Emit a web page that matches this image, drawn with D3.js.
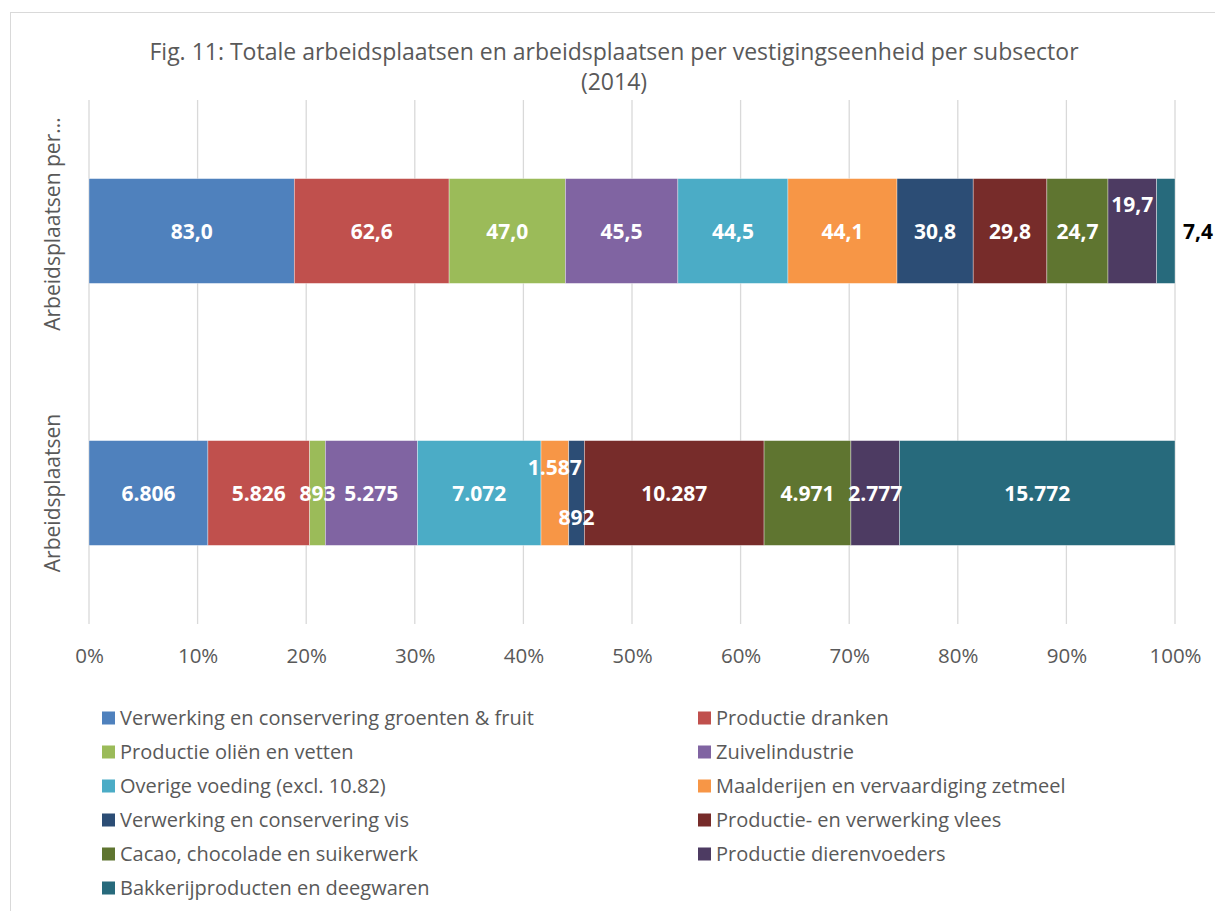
<!DOCTYPE html>
<html><head><meta charset="utf-8">
<script src="https://cdn.jsdelivr.net/npm/d3@7"></script>
<style>body{margin:0;background:#fff;} svg{display:block;}</style>
</head><body>
<script>
const categories = ["Arbeidsplaatsen per...", "Arbeidsplaatsen"];
const seriesNames = [
  "Verwerking en conservering groenten & fruit",
  "Productie dranken",
  "Productie oliën en vetten",
  "Zuivelindustrie",
  "Overige voeding (excl. 10.82)",
  "Maalderijen en vervaardiging zetmeel",
  "Verwerking en conservering vis",
  "Productie- en verwerking vlees",
  "Cacao, chocolade en suikerwerk",
  "Productie dierenvoeders",
  "Bakkerijproducten en deegwaren"
];
const seriesColors = ["#4F81BD","#C0504D","#9BBB59","#8064A2","#4BACC6","#F79646","#2C4D75","#772C2A","#5F7530","#4D3B62","#276A7C"];
const valuesPerUnit = [83.0, 62.6, 47.0, 45.5, 44.5, 44.1, 30.8, 29.8, 24.7, 19.7, 7.4];
const valuesTotal = [6806, 5826, 893, 5275, 7072, 1587, 892, 10287, 4971, 2777, 15772];
const labelsPerUnit = ["83,0","62,6","47,0","45,5","44,5","44,1","30,8","29,8","24,7","19,7","7,4"];
const labelsTotal = ["6.806","5.826","893","5.275","7.072","1.587","892","10.287","4.971","2.777","15.772"];
const xTicks = [0,0.1,0.2,0.3,0.4,0.5,0.6,0.7,0.8,0.9,1.0];
const titleLines = ["Fig. 11: Totale arbeidsplaatsen en arbeidsplaatsen per vestigingseenheid per subsector","(2014)"];

const W = 1215, H = 911;
const font = "'Open Sans', 'DejaVu Sans', sans-serif";
const svg = d3.select("body").append("svg").attr("width", W).attr("height", H);

// chart border
svg.append("rect").attr("x", 10.5).attr("y", 12.5).attr("width", W + 10).attr("height", H + 10)
  .attr("fill", "none").attr("stroke", "#d9d9d9").attr("stroke-width", 1);

// title
svg.append("g").selectAll("text").data(titleLines).join("text")
  .attr("x", 614).attr("y", (d, i) => 60 + i * 30)
  .attr("text-anchor", "middle").attr("font-family", font).attr("font-size", 23)
  .attr("fill", "#595959").text(d => d);

const plot = {left: 89, right: 1175, top: 100, bottom: 624};
const x = d3.scaleLinear().domain([0, 1]).range([plot.left, plot.right]);
const y = d3.scaleBand().domain(categories).range([plot.top, plot.bottom]).paddingInner(0.6).paddingOuter(0.3);

// gridlines
svg.append("g").selectAll("line").data(xTicks).join("line")
  .attr("x1", d => x(d)).attr("x2", d => x(d))
  .attr("y1", plot.top).attr("y2", plot.bottom)
  .attr("stroke", "#d9d9d9").attr("stroke-width", 1.3);

// x axis
const xAxis = d3.axisBottom(x).tickValues(xTicks).tickFormat(d3.format(".0%")).tickSize(0).tickPadding(0);
const gx = svg.append("g").attr("transform", `translate(0,${plot.bottom + 39})`).call(xAxis);
gx.select(".domain").remove();
gx.selectAll("text").attr("font-family", font).attr("font-size", 20.5).attr("fill", "#595959").attr("dy", 0);

// y axis labels
const gy = svg.append("g");
gy.selectAll("text").data(categories).join("text")
  .attr("transform", (d, i) => `translate(${60},${y(d) + y.bandwidth() / 2 + (i === 0 ? -7 : 0)}) rotate(-90)`)
  .attr("text-anchor", "middle").attr("font-family", font).attr("font-size", 21)
  .attr("fill", "#595959").text(d => d);

// stacked data
const rows = [
  {cat: categories[0], values: valuesPerUnit, labels: labelsPerUnit},
  {cat: categories[1], values: valuesTotal, labels: labelsTotal}
];
const labelAdjust = {
  "0-9": {dx: 0, dy: -27},
  "0-10": {dx: 23, dy: 0, outside: true},
  "1-5": {dx: 0, dy: -26},
  "1-6": {dx: 0, dy: 24}
};
rows.forEach((row, ri) => {
  const total = d3.sum(row.values);
  let cum = 0;
  const segs = row.values.map((v, si) => {
    const s = {x0: cum / total, x1: (cum + v) / total, si, label: row.labels[si]};
    cum += v;
    return s;
  });
  const g = svg.append("g");
  g.selectAll("rect").data(segs).join("rect")
    .attr("x", d => x(d.x0)).attr("width", d => x(d.x1) - x(d.x0))
    .attr("y", y(row.cat)).attr("height", y.bandwidth())
    .attr("fill", d => seriesColors[d.si])
    .attr("stroke", "#ffffff").attr("stroke-width", 0.6).attr("stroke-opacity", 0.6);
  g.selectAll("text").data(segs).join("text")
    .attr("x", d => {
      const a = labelAdjust[ri + "-" + d.si];
      if (a && a.outside) return x(d.x1) + a.dx;
      return (x(d.x0) + x(d.x1)) / 2 + (a ? a.dx : 0);
    })
    .attr("y", d => {
      const a = labelAdjust[ri + "-" + d.si];
      return y(row.cat) + y.bandwidth() / 2 + (a ? a.dy : 0);
    })
    .attr("dy", "0.36em")
    .attr("text-anchor", "middle").attr("font-family", font).attr("font-weight", "bold")
    .attr("font-size", 21)
    .attr("fill", d => { const a = labelAdjust[ri + "-" + d.si]; return a && a.outside ? "#000" : "#fff"; })
    .text(d => d.label);
});

// legend
const legend = svg.append("g");
const items = legend.selectAll("g").data(seriesNames).join("g")
  .attr("transform", (d, i) => `translate(${i % 2 === 0 ? 102 : 698},${718 + Math.floor(i / 2) * 34})`);
items.append("rect").attr("x", 0).attr("y", -6.5).attr("width", 13).attr("height", 13)
  .attr("fill", (d, i) => seriesColors[i]);
items.append("text").attr("x", 18).attr("y", 0).attr("dy", "0.35em")
  .attr("font-family", font).attr("font-size", 20).attr("fill", "#595959").text(d => d);
</script>
</body></html>
